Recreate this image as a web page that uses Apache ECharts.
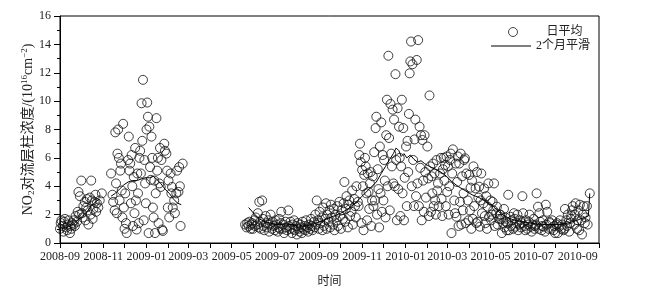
<!DOCTYPE html>
<html><head><meta charset="utf-8">
<script src="https://cdn.jsdelivr.net/npm/echarts@6/dist/echarts.min.js"></script>
<style>html,body{margin:0;padding:0;background:#fff}#c{width:645px;height:294px}</style>
</head><body><div id="c"></div>
<script>
// x-axis tick labels (every 2 months)
const xTickLabels = ['2008-09','2008-11','2009-01','2009-03','2009-05','2009-07','2009-09','2009-11','2010-01','2010-03','2010-05','2010-07','2010-09'];
const yTickValues = [0,2,4,6,8,10,12,14,16];

// daily mean NO2, segment 1, first day 2008-09-01 (null = no data)
const seg1Start = [2008, 8, 1];
const seg1Daily = [
 1.0,1.4,1.6,null,1.2,0.8,1.5,1.7,null,1.1,
 0.9,1.3,1.6,null,0.7,1.2,1.0,1.4,null,1.3,
 1.6,1.2,1.9,null,1.5,2.2,3.6,2.0,3.3,null,
 4.4,2.1,1.8,2.6,null,2.9,1.6,2.5,3.1,2.3,
 1.3,null,3.2,2.0,4.4,3.0,1.7,2.4,null,2.9,
 3.4,2.2,2.8,null,2.5,null,3.0,null,null,3.5,
 null,null,null,null,null,null,null,null,null,null,
 null,null,4.9,null,3.4,2.9,null,2.3,7.8,4.2,
 2.1,6.3,8.0,6.0,3.0,5.1,5.6,3.7,1.8,8.4,
 2.5,1.0,3.5,1.4,0.7,null,5.85,7.5,5.1,5.6,
 2.8,6.2,4.0,1.2,4.65,2.1,6.7,3.0,0.95,4.9,
 3.5,1.4,6.0,6.5,4.9,9.85,7.2,11.5,1.6,5.85,
 4.2,2.8,8.0,9.9,8.9,0.7,8.2,5.35,4.45,7.5,
 6.0,2.5,1.8,4.4,0.7,3.5,8.8,5.1,6.0,1.4,
 4.2,6.7,3.95,5.85,0.95,0.85,null,7.0,6.5,null,
 6.3,5.1,2.5,4.4,1.8,null,4.9,3.5,3.95,2.5,
 null,3.0,2.1,null,3.5,5.1,null,3.6,5.35,4.0,
 1.2,null,null,5.6
];

// daily mean NO2, segment 2, first day 2009-05-20
const seg2Start = [2009, 4, 20];
const seg2Daily = [
 1.3,null,1.1,1.4,null,1.2,1.5,null,1.0,1.3,
 1.4,1.0,null,1.6,1.2,1.8,null,1.3,2.1,1.1,
 2.9,1.5,1.0,null,3.0,1.7,1.2,0.9,null,1.9,
 1.4,1.1,null,1.6,0.8,1.3,2.0,null,1.0,1.5,
 1.2,null,0.9,1.6,1.3,null,0.8,1.1,1.7,1.0,
 1.4,2.2,null,1.0,1.3,0.7,null,1.5,1.1,0.9,
 null,2.3,1.2,1.0,1.5,null,0.7,1.3,1.0,1.6,
 0.9,null,1.2,0.6,1.4,1.0,null,0.8,1.3,1.1,
 0.7,1.5,null,1.0,1.2,0.9,1.6,null,1.1,0.8,
 1.3,null,1.0,1.7,1.2,0.9,null,1.5,1.1,2.0,
 1.3,3.0,null,1.6,1.0,2.2,1.4,null,1.8,0.9,
 2.5,1.2,null,1.7,2.8,1.0,2.0,null,1.5,2.3,
 1.1,2.7,1.8,null,1.3,2.4,0.9,2.0,null,1.6,
 2.6,1.2,null,2.9,1.9,1.0,2.3,null,1.7,2.8,
 4.3,1.5,2.4,3.3,null,1.1,2.7,3.0,1.9,null,
 2.2,3.7,1.3,null,3.1,2.6,1.8,4.0,null,2.9,
 2.6,6.2,7.0,5.7,1.4,5.15,4.0,0.9,4.8,6.0,
 5.4,3.5,1.6,4.9,3.6,2.4,4.2,5.0,1.2,3.0,
 4.7,2.6,6.4,3.0,8.1,8.9,2.0,5.2,3.8,1.1,
 6.8,3.5,8.5,2.2,6.2,3.0,5.85,4.4,1.8,7.6,
 10.1,4.0,13.2,7.4,2.3,9.8,6.3,5.4,9.4,4.2,
 8.7,4.0,11.9,5.85,1.6,9.5,3.8,8.2,6.0,1.9,
 5.4,10.1,3.5,8.1,1.6,4.6,null,6.8,2.6,7.2,
 5.0,9.1,11.96,12.8,14.2,4.0,12.6,5.85,2.6,7.3,
 8.7,3.3,12.9,4.2,14.3,2.6,8.2,5.3,7.6,1.6,
 7.26,4.4,2.2,7.6,5.0,3.2,null,6.8,4.55,1.9,
 10.4,5.4,2.2,4.7,3.5,5.6,2.6,4.9,3.0,2.0,
 5.85,3.7,4.2,2.6,null,4.9,6.0,3.1,1.9,5.2,
 6.0,4.4,5.5,2.6,6.1,3.6,5.4,2.0,4.0,5.85,
 6.3,0.7,4.9,6.6,null,3.0,2.1,5.6,1.85,4.3,
 6.1,1.2,5.6,2.9,6.3,1.3,4.7,2.3,3.5,5.85,
 5.97,1.4,4.9,null,3.0,1.6,4.8,2.3,3.9,1.0,
 4.4,1.7,5.4,2.6,null,3.85,1.4,5.0,1.5,3.2,
 3.97,1.15,3.0,4.9,2.1,null,2.8,3.85,1.9,1.4,
 3.3,1.0,2.56,4.2,1.85,null,3.0,1.6,2.0,2.9,
 2.3,4.2,1.2,null,2.1,2.56,1.3,null,1.7,2.0,
 2.0,1.7,0.7,null,1.4,2.4,1.1,1.8,1.5,0.9,
 1.4,3.4,0.9,null,1.85,1.2,1.6,null,1.0,2.1,
 1.7,1.15,null,1.4,2.0,0.9,null,1.3,1.6,1.1,
 1.4,3.3,2.1,null,1.2,0.9,1.6,null,1.0,1.3,
 1.5,2.0,null,1.15,0.8,1.3,null,1.7,1.0,1.2,
 1.3,3.5,null,2.56,1.0,2.1,1.5,null,0.9,1.2,
 1.6,1.15,null,0.8,2.7,1.3,2.2,null,1.0,1.5,
 1.4,null,1.0,1.6,null,0.9,1.2,0.7,null,1.3,
 1.4,0.7,null,1.15,1.6,null,1.0,1.3,null,0.9,
 1.0,2.4,null,1.6,1.2,2.0,null,0.8,1.4,1.7,
 1.9,2.3,2.6,null,1.3,2.0,2.8,null,1.0,1.6,
 2.3,0.9,2.7,null,1.6,0.6,2.0,2.6,null,1.4,
 1.8,null,2.6,1.3,null,null,3.5
];

// 2-month smoothed curve (day offsets from segment start; null = break)
const smooth1Days = [2,10,18,25,32,38,44,50,56,64,72,78,84,90,96,102,108,114,120,126,132,136,142,148,154,160,166,171];
const smooth1Vals = [1.0,1.1,1.3,1.6,1.9,2.2,2.6,2.9,3.1,null,3.3,3.5,3.8,4.1,4.3,4.4,4.4,4.5,4.6,4.6,4.7,4.5,4.2,3.8,3.5,3.1,2.8,2.7];
const smooth2Days = [5,12,20,28,36,45,55,65,75,85,95,105,115,125,135,145,155,165,175,185,192,198,204,209,213,217,220,224,228,233,238,243,248,253,260,268,276,284,292,300,310,320,330,340,350,360,370,380,395,410,425,440,455,468,478,484,486];
const smooth2Vals = [2.5,2.1,1.7,1.5,1.4,1.3,1.35,1.3,1.2,1.2,1.3,1.5,1.7,1.9,2.1,2.4,2.8,3.3,3.8,4.3,4.9,5.4,5.9,6.3,6.7,6.5,6.1,6.3,6.0,6.2,5.9,5.7,5.8,5.6,5.4,5.2,5.0,4.7,4.3,4.0,3.7,3.4,3.2,2.9,2.6,2.1,1.8,1.6,1.45,1.35,1.3,1.3,1.4,1.6,1.8,1.9,3.5];

const dayTime = (s, i) => new Date(s[0], s[1], s[2] + i).getTime();
const scatterData = [];
seg1Daily.forEach((v, i) => { if (v != null) scatterData.push([dayTime(seg1Start, i), v]); });
seg2Daily.forEach((v, i) => { if (v != null) scatterData.push([dayTime(seg2Start, i), v]); });
const lineData = [];
smooth1Days.forEach((d, i) => lineData.push([dayTime(seg1Start, d), smooth1Vals[i] == null ? '-' : smooth1Vals[i]]));
lineData.push([dayTime(seg1Start, 200), '-']);
smooth2Days.forEach((d, i) => lineData.push([dayTime(seg2Start, d), smooth2Vals[i] == null ? '-' : smooth2Vals[i]]));

const majorTicks = xTickLabels.map(s => { const p = s.split('-'); return new Date(+p[0], +p[1] - 1, 1).getTime(); });
const monthTicks = [];
for (let m = 0; m <= 25; m++) monthTicks.push(new Date(2008, 8 + m, 1).getTime());
const labelOf = v => { const d = new Date(v); return d.getFullYear() + '-' + String(d.getMonth() + 1).padStart(2, '0'); };

const FONT = "'Liberation Serif','Noto Sans CJK SC',serif";
const chart = echarts.init(document.getElementById('c'), null, {renderer: 'canvas'});
chart.setOption({
  animation: false,
  backgroundColor: '#fff',
  grid: {left: 60, right: 46, top: 16, bottom: 51, show: true, borderColor: '#000', borderWidth: 1, backgroundColor: 'transparent'},
  legend: [
    {data: [{name: '日平均', icon: 'circle'}], left: 503, top: 21, itemWidth: 9, itemHeight: 9,
     itemStyle: {color: 'transparent', borderColor: '#1a1a1a', borderWidth: 1},
     textStyle: {fontFamily: FONT, fontSize: 12, color: '#222', padding: [0, 0, 0, 24]}},
    {data: [{name: '2个月平滑', icon: 'rect'}], left: 486, top: 35, itemWidth: 40, itemHeight: 1,
     itemStyle: {color: '#000', borderWidth: 0},
     textStyle: {fontFamily: FONT, fontSize: 12, color: '#222'}}
  ],
  xAxis: {
    type: 'value',
    min: new Date(2008, 8, 1).getTime(),
    max: new Date(2010, 9, 1).getTime(),
    name: '时间', nameLocation: 'middle', nameGap: 33, nameMoveOverlap: false,
    nameTextStyle: {fontFamily: FONT, fontSize: 12, color: '#222'},
    axisLine: {lineStyle: {color: '#000', width: 1}},
    axisTick: {customValues: monthTicks, length: 5, lineStyle: {color: '#000'}},
    axisLabel: {customValues: majorTicks, formatter: labelOf, fontFamily: FONT, fontSize: 12, color: '#222', margin: 8},
    splitLine: {show: false}
  },
  yAxis: {
    type: 'value', min: 0, max: 16, interval: 2,
    name: 'NO{sub|2}对流层柱浓度/(10{sup|16}cm{sup|−2})', nameLocation: 'middle', nameRotate: 90, nameGap: 24, nameMoveOverlap: false,
    nameTextStyle: {fontFamily: FONT, fontSize: 14, color: '#222', lineHeight: 16,
      rich: {
        sub: {fontFamily: FONT, fontSize: 9, verticalAlign: 'bottom', lineHeight: 16, color: '#222'},
        sup: {fontFamily: FONT, fontSize: 9, verticalAlign: 'top', lineHeight: 16, color: '#222'}
      }},
    axisLine: {show: true, lineStyle: {color: '#000', width: 1}},
    axisTick: {show: true, length: 6, lineStyle: {color: '#000'}},
    minorTick: {show: true, splitNumber: 2, length: 3, lineStyle: {color: '#000'}},
    axisLabel: {fontFamily: FONT, fontSize: 12, color: '#222', margin: 9},
    splitLine: {show: false}
  },
  series: [
    {name: '日平均', type: 'scatter', symbol: 'circle', symbolSize: 9, data: scatterData,
     itemStyle: {color: 'transparent', borderColor: '#111', borderWidth: 1}},
    {name: '2个月平滑', type: 'line', symbol: 'none', data: lineData, connectNulls: false,
     lineStyle: {color: '#000', width: 1}, itemStyle: {color: '#000'}, z: 3}
  ]
});
</script></body></html>
